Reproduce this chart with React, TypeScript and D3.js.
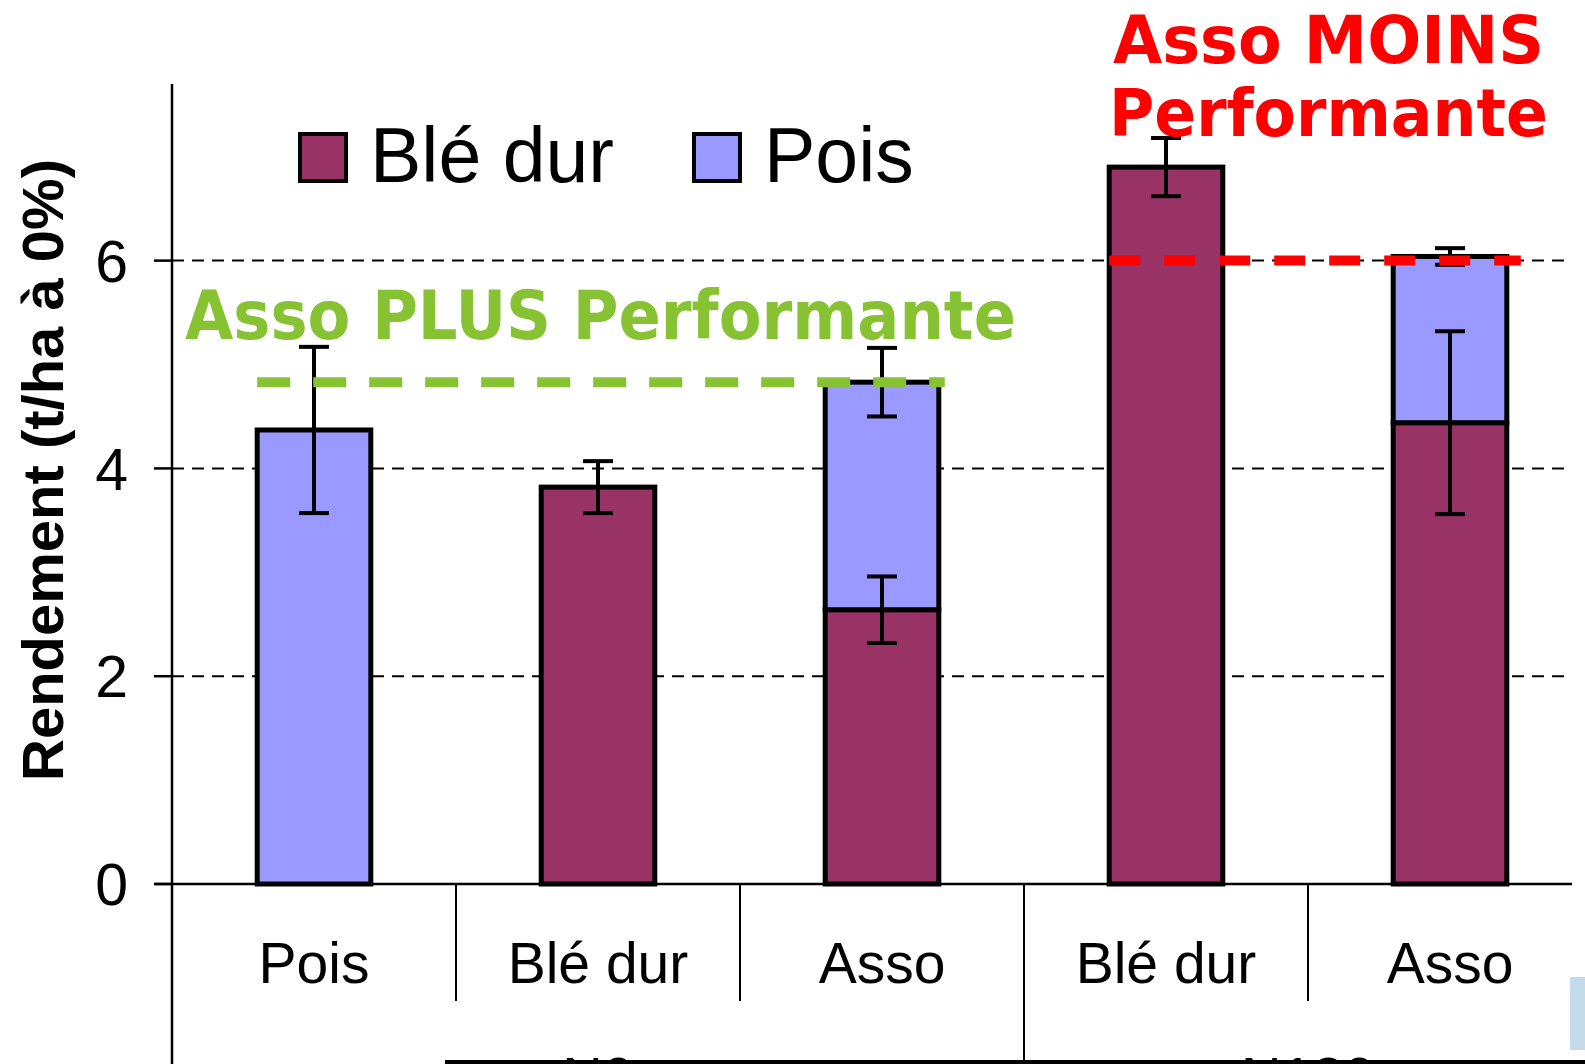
import * as d3 from 'd3';
import React from 'react';

// chart data
const categories = ['Pois', 'Blé dur', 'Asso', 'Blé dur', 'Asso'];
const groups = ['N0', 'N180'];
const groupOfCategory = [0, 0, 0, 1, 1];
const bleValues = [0, 3.82, 2.64, 6.9, 4.44];
const poisValues = [4.37, 0, 2.19, 0, 1.6];
const bleErrors = [0, 0.25, 0.32, 0.28, 0.88];
const poisErrors = [0.8, 0, 0.33, 0, 0.08];
const yTicks = [0, 2, 4, 6];
const legendItems = ['Blé dur', 'Pois'];

const W = 1585;
const H = 1064;
const BLE = '#993366';
const POIS = '#9999FF';
const GREEN = '#86C232';
const RED = '#FF0000';
const sans = '"Liberation Sans", Arial, sans-serif';
const wide = '"DejaVu Sans", Verdana, sans-serif';

export default function App() {
  const left = 172;
  const right = 1572;

  const y = d3.scaleLinear().domain([0, 7.7]).range([884, 84]);
  const x = d3
    .scaleBand<number>()
    .domain(categories.map((_, i) => i))
    .range([left, 1592])
    .padding(0);
  const barW = x.bandwidth() * 0.4;
  const cx = (i: number) => (x(i) as number) + x.bandwidth() / 2;

  // asso N0 total drives the green reference line
  const assoN0 = bleValues[2] + poisValues[2];

  const errorBar = (key: string, xc: number, v: number, e: number) => (
    <g key={key} stroke="#000" strokeWidth={4}>
      <line x1={xc} x2={xc} y1={y(v + e)} y2={y(v - e)} />
      <line x1={xc - 15} x2={xc + 15} y1={y(v + e)} y2={y(v + e)} />
      <line x1={xc - 15} x2={xc + 15} y1={y(v - e)} y2={y(v - e)} />
    </g>
  );

  // separators: every band edge, long ones at group boundaries
  const edges = categories.map((_, i) => ({
    x: x(i) as number,
    long: i === 0 || groupOfCategory[i] !== groupOfCategory[i - 1],
  }));

  const groupCenters = groups.map((_, g) => {
    const idx = categories.map((_, i) => i).filter(i => groupOfCategory[i] === g);
    const x0 = x(idx[0]) as number;
    const x1 = (x(idx[idx.length - 1]) as number) + x.bandwidth();
    return (x0 + x1) / 2;
  });

  return (
    <svg
      width={W}
      height={H}
      style={{ position: 'absolute', left: 0, top: 0, background: '#fff' }}
    >
      <rect width={W} height={H} fill="#fff" />

      {/* grid + ticks */}
      {yTicks.filter(t => t > 0).map(t => (
        <line
          key={'g' + t}
          x1={left}
          x2={right}
          y1={y(t)}
          y2={y(t)}
          stroke="#000"
          strokeWidth={2}
          strokeDasharray="12,8"
        />
      ))}
      {yTicks.map(t => (
        <g key={'t' + t}>
          <line x1={154} x2={left} y1={y(t)} y2={y(t)} stroke="#000" strokeWidth={2.5} />
          <text
            x={128}
            y={y(t)}
            dy="0.36em"
            textAnchor="end"
            fontFamily={sans}
            fontSize={59}
            fill="#000"
          >
            {t}
          </text>
        </g>
      ))}

      {/* bars */}
      {categories.map((c, i) => (
        <g key={'b' + i} stroke="#000" strokeWidth={5}>
          {bleValues[i] > 0 && (
            <rect
              x={cx(i) - barW / 2}
              y={y(bleValues[i])}
              width={barW}
              height={y(0) - y(bleValues[i])}
              fill={BLE}
            />
          )}
          {poisValues[i] > 0 && (
            <rect
              x={cx(i) - barW / 2}
              y={y(bleValues[i] + poisValues[i])}
              width={barW}
              height={y(bleValues[i]) - y(bleValues[i] + poisValues[i])}
              fill={POIS}
            />
          )}
        </g>
      ))}

      {/* error bars */}
      {categories.map((c, i) => (
        <g key={'e' + i}>
          {bleErrors[i] > 0 && errorBar('eb' + i, cx(i), bleValues[i], bleErrors[i])}
          {poisErrors[i] > 0 &&
            errorBar('ep' + i, cx(i), bleValues[i] + poisValues[i], poisErrors[i])}
        </g>
      ))}

      {/* axes */}
      <line x1={left} x2={left} y1={y(7.7)} y2={H} stroke="#000" strokeWidth={2.5} />
      <line x1={154} x2={right} y1={y(0)} y2={y(0)} stroke="#000" strokeWidth={2.5} />
      {edges.slice(1).map((e, i) => (
        <line
          key={'s' + i}
          x1={e.x}
          x2={e.x}
          y1={y(0)}
          y2={e.long ? H : 1001}
          stroke="#000"
          strokeWidth={2}
        />
      ))}
      {categories.map((c, i) => (
        <text
          key={'xl' + i}
          x={cx(i)}
          y={983}
          textAnchor="middle"
          fontFamily={sans}
          fontSize={57}
          fill="#000"
        >
          {c}
        </text>
      ))}
      {/* group labels, mostly cut by the slide edge as in the source */}
      {groups.map((g, i) => (
        <text
          key={'gl' + i}
          x={groupCenters[i]}
          y={1096}
          textAnchor="middle"
          fontFamily={sans}
          fontSize={56}
          fill="#000"
        >
          {g}
        </text>
      ))}

      {/* y label */}
      <text
        transform="translate(63,470) rotate(-90)"
        textAnchor="middle"
        fontFamily={sans}
        fontWeight="bold"
        fontSize={58}
        fill="#000"
      >
        Rendement (t/ha à 0%)
      </text>

      {/* legend */}
      {legendItems.map((name, i) => (
        <g key={'lg' + i} transform={`translate(${300 + i * 394},134)`}>
          <rect
            width={46}
            height={47}
            fill={name === 'Pois' ? POIS : BLE}
            stroke="#000"
            strokeWidth={4}
          />
          <text x={70} y={48} fontFamily={sans} fontSize={77} fill="#000">
            {name}
          </text>
        </g>
      ))}

      {/* reference lines */}
      <line
        x1={cx(0) - barW / 2}
        x2={cx(2) + barW / 2 + 6}
        y1={y(assoN0)}
        y2={y(assoN0)}
        stroke={GREEN}
        strokeWidth={10}
        strokeDasharray="33,23"
      />
      <line
        x1={cx(3) - barW / 2}
        x2={cx(4) + barW / 2 + 14}
        y1={y(6)}
        y2={y(6)}
        stroke={RED}
        strokeWidth={10}
        strokeDasharray="31,24"
      />

      <text
        x={185}
        y={339}
        fontFamily={wide}
        fontWeight="bold"
        fontSize={67}
        fill={GREEN}
        textLength={831}
        lengthAdjust="spacingAndGlyphs"
      >
        Asso PLUS Performante
      </text>
      <text
        x={1113}
        y={63}
        fontFamily={wide}
        fontWeight="bold"
        fontSize={65}
        fill={RED}
        textLength={431}
        lengthAdjust="spacingAndGlyphs"
      >
        Asso MOINS
      </text>
      <text
        x={1109}
        y={136}
        fontFamily={wide}
        fontWeight="bold"
        fontSize={65}
        fill={RED}
        textLength={439}
        lengthAdjust="spacingAndGlyphs"
      >
        Performante
      </text>

      {/* slide edge artefacts */}
      <rect x={1570} y={977} width={15} height={73} fill="#C4DBEB" />
      <rect x={445} y={1060} width={W - 445} height={4} fill="#000" />
    </svg>
  );
}
